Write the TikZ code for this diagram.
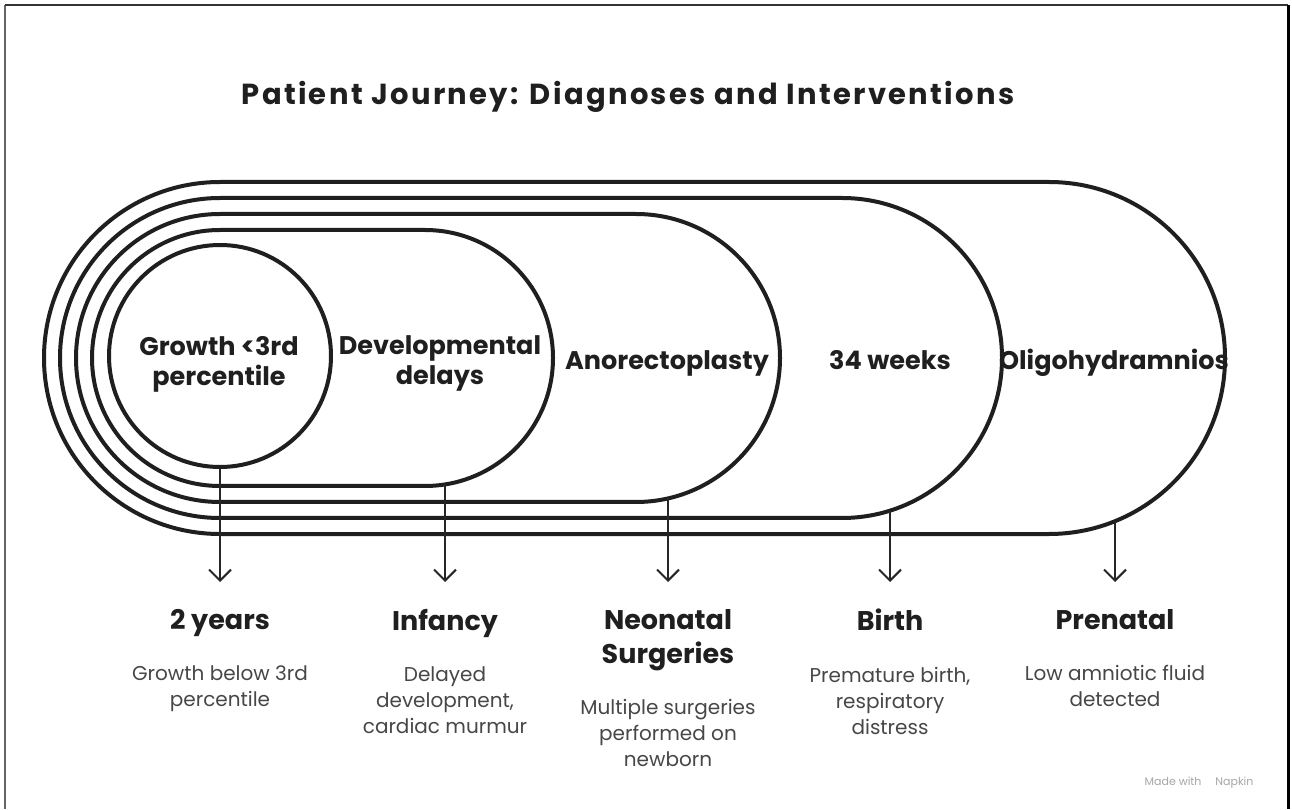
\documentclass[tikz,border=0pt]{standalone}
\usepackage{fontspec}
\setmainfont{Poppins}
\usetikzlibrary{arrows.meta,positioning}

\tikzset{
  ring/.style={draw=black!88,line width=4pt},
  drop/.style={draw=black!85,line width=2pt,-{Straight Barb[length=11pt,width=22pt]}},
  stage/.style={font=\fontsize{25.5}{30}\selectfont\bfseries,text=black!88,align=center,inner sep=0pt},
  head/.style={font=\fontsize{27}{34}\selectfont\bfseries,text=black!88,align=center,inner sep=0pt,text depth=7pt},
  desc/.style={font=\fontsize{20}{26}\selectfont,text=black!72,align=center,inner sep=0pt},
}

\begin{document}
\begin{tikzpicture}[x=1pt,y=1pt]
\useasboundingbox (0,0) rectangle (1292,809);
\fill[white] (0,0) rectangle (1292,809);
\draw[black!60,line width=2.5pt] (5,0) -- (5,804);
\draw[black!80,line width=2.5pt] (5,804) -- (1288,804);
\draw[black,line width=3pt] (1288,804) -- (1288,0);

\node[font=\fontsize{29}{32}\selectfont\bfseries\addfontfeature{LetterSpace=8},text=black!88,anchor=base] (title) at (628,704) {Patient Journey: Diagnoses and Interventions};

\foreach \r/\xr in {176/1049,160/842,144/636,128/425}
  \draw[ring] (220,451+\r) -- (\xr,451+\r) arc[start angle=90,end angle=-90,radius=\r]
    -- (220,451-\r) arc[start angle=270,end angle=90,radius=\r] -- cycle;
\node[ring,circle,minimum size=222pt,inner sep=0pt] (growth) at (220,453) {};

\node[stage] (lgrowth) at (219,445) {Growth <3rd\\percentile};
\node[stage] (ldev) at (440,446) {Developmental\\delays};
\node[stage,anchor=base] (lanor) at (667,439) {Anorectoplasty};
\node[stage,anchor=base] (lwks) at (890,439) {34 weeks};
\node[stage,anchor=base] (loligo) at (1114,439) {Oligohydramnios};

\coordinate (d0) at (445,324.6);
\coordinate (a0) at (668,310.6);
\coordinate (w0) at (890,298.4);
\coordinate (o0) at (1115,287.8);
\coordinate (g1) at (220,227);
\coordinate (d1) at (445,227);
\coordinate (a1) at (668,227);
\coordinate (w1) at (890,227);
\coordinate (o1) at (1115,227);

\draw[drop] (growth.south) -- (g1);
\draw[drop] (d0) -- (d1);
\draw[drop] (a0) -- (a1);
\draw[drop] (w0) -- (w1);
\draw[drop] (o0) -- (o1);

\node[head,below=27pt of g1] (h1) {2 years};
\node[head,below=27pt of d1] (h2) {Infancy};
\node[head,below=27pt of a1] (h3) {Neonatal\\Surgeries};
\node[head,below=27pt of w1] (h4) {Birth};
\node[head,below=27pt of o1] (h5) {Prenatal};

\node[desc,below=29pt of h1] (t1) {Growth below 3rd\\percentile};
\node[desc,below=29pt of h2] (t2) {Delayed\\development,\\cardiac murmur};
\node[desc,below=29pt of h3] (t3) {Multiple surgeries\\performed on\\newborn};
\node[desc,below=29pt of h4] (t4) {Premature birth,\\respiratory\\distress};
\node[desc,below=29pt of h5] (t5) {Low amniotic fluid\\detected};

\node[font=\fontsize{11}{13}\selectfont,text=black!35,anchor=east] (mark) at (1257,26) {Made with \quad Napkin};
\end{tikzpicture}
\end{document}
